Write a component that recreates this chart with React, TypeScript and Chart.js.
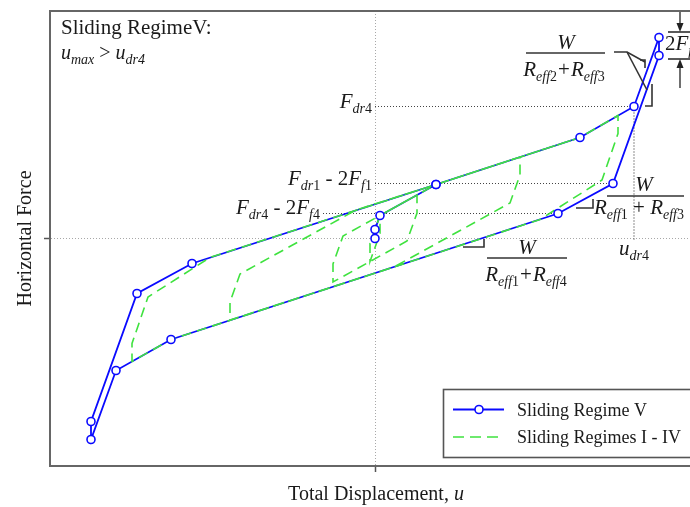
import React, { useEffect, useRef } from 'react';
import { Chart, registerables } from 'chart.js';

Chart.register(...registerables);

// ---------- data (displacement units / force units) ----------
// Sliding Regime V (blue solid line with circle markers)
const regimeVX = [0, 0, 0.5, 6.1, 20.5, 25.9, 28.4, 28.4, 23.8, 18.3, -20.4, -25.9, -28.4, -28.4, -23.8, -18.3, 6.1];
const regimeVY = [0, 0.9, 2.3, 5.4, 10.1, 13.2, 20.1, 18.3, 5.5, 2.5, -10.1, -13.2, -20.1, -18.3, -5.5, -2.5, 5.4];

// Sliding Regimes I - IV (green dashed, nested loops)
const regimesX = [0, 0, 0.5, 0.5, -0.5, -0.5, 0.5, 4.2, 4.2, 3.2, -4.2, -4.2, -3.2, 4.2, 6.1, 14.5, 14.5, 13.5, 1.9, -14.5, -14.5, -13.5, -1.9, 6.1, 20.5, 24.3, 24.3, 22.7, 16.5, -20.4, -24.3, -24.3, -22.7, -16.5, 6.1, 20.5];
const regimesY = [0, 0.9, 2.3, 0.5, -2.3, -0.5, 2.3, 4.35, 2.55, -0.25, -4.35, -2.55, 0.25, 4.35, 5.4, 8.15, 6.35, 3.55, -2.85, -8.15, -6.35, -3.55, 2.85, 5.4, 10.1, 12.3, 10.5, 5.85, 1.9, -10.1, -12.3, -10.5, -5.85, -1.9, 5.4, 10.1];

// dotted reference levels
const guideFdr4X = [0, 25.9];
const guideFdr4Y = [13.2, 13.2];
const guideFdr1X = [0, 23.8];
const guideFdr1Y = [5.5, 5.5];
const guideFdr4f4X = [-5.2, 18.3];
const guideFdr4f4Y = [2.5, 2.5];
const guideUdr4X = [25.9, 25.9];
const guideUdr4Y = [13.2, -0.2];

// axis ranges and the single (zero) tick on each axis
const xRange = [-32.5, 32.5];
const yRange = [-22.75, 22.75];
const axisTicks = [0];

const legendLabels = ['Sliding Regime V', 'Sliding Regimes I - IV'];

// ---------- styles ----------
const BLUE = '#0a0aff';
const GREEN = '#3fe23f';
const FRAME = '#666666';
const INK = '#1a1a1a';
const SERIF = '"Liberation Serif", "Times New Roman", serif';

type Seg = { t: string; it?: boolean; sub?: boolean; dx?: number };

function segFont(s: Seg, main: number, sub: number) {
  return `${s.it ? 'italic ' : ''}${s.sub ? sub : main}px ${SERIF}`;
}
function richWidth(ctx: CanvasRenderingContext2D, segs: Seg[], main: number, sub: number) {
  let w = 0;
  for (const s of segs) {
    ctx.font = segFont(s, main, sub);
    w += ctx.measureText(s.t).width + (s.dx || 0);
  }
  return w;
}
function drawRich(ctx: CanvasRenderingContext2D, segs: Seg[], x: number, y: number, align: string, main = 21, sub = 14) {
  const w = richWidth(ctx, segs, main, sub);
  let cx = align === 'left' ? x : align === 'center' ? x - w / 2 : x - w;
  ctx.textAlign = 'left';
  ctx.textBaseline = 'alphabetic';
  for (const s of segs) {
    cx += s.dx || 0;
    ctx.font = segFont(s, main, sub);
    ctx.fillText(s.t, cx, s.sub ? y + 5 : y);
    cx += ctx.measureText(s.t).width;
  }
}
function line(ctx: CanvasRenderingContext2D, pts: number[][]) {
  ctx.beginPath();
  ctx.moveTo(pts[0][0], pts[0][1]);
  for (let i = 1; i < pts.length; i++) ctx.lineTo(pts[i][0], pts[i][1]);
  ctx.stroke();
}
function arrowHead(ctx: CanvasRenderingContext2D, x: number, y: number, dir: number) {
  ctx.beginPath();
  ctx.moveTo(x, y);
  ctx.lineTo(x - 3.5, y - dir * 9);
  ctx.lineTo(x + 3.5, y - dir * 9);
  ctx.closePath();
  ctx.fill();
}

const R = (n: string): Seg[] => [
  { t: 'R', it: true },
  { t: 'eff', it: true, sub: true },
  { t: n, sub: true },
];

const annotPlugin = {
  id: 'annotations',
  afterDraw(chart: any) {
    const { ctx, chartArea: ca, scales } = chart;
    const X = (v: number) => scales.x.getPixelForValue(v);
    const Y = (v: number) => scales.y.getPixelForValue(v);
    ctx.save();

    // top / right frame
    ctx.strokeStyle = FRAME;
    ctx.lineWidth = 2;
    line(ctx, [[ca.left - 1, ca.top], [ca.right, ca.top], [ca.right, ca.bottom]]);

    ctx.fillStyle = INK;
    // panel title
    ctx.font = `21px ${SERIF}`;
    ctx.textAlign = 'left';
    ctx.textBaseline = 'alphabetic';
    ctx.fillText('Sliding RegimeV:', 61, 34);
    drawRich(ctx, [
      { t: 'u', it: true }, { t: 'max', it: true, sub: true },
      { t: ' > ' }, { t: 'u', it: true }, { t: 'dr4', it: true, sub: true },
    ], 61, 59, 'left', 20, 14);

    // axis titles
    ctx.font = `20px ${SERIF}`;
    ctx.save();
    ctx.translate(31, (ca.top + ca.bottom) / 2);
    ctx.rotate(-Math.PI / 2);
    ctx.textAlign = 'center';
    ctx.textBaseline = 'alphabetic';
    ctx.fillText('Horizontal Force', 0, 0);
    ctx.restore();
    drawRich(ctx, [{ t: 'Total Displacement, ' }, { t: 'u', it: true }], X(0) + 1, 500, 'center', 20, 14);

    // level labels
    drawRich(ctx, [{ t: 'F', it: true }, { t: 'dr', it: true, sub: true }, { t: '4', sub: true }], X(-0.3), Y(13.2) + 1, 'right');
    drawRich(ctx, [
      { t: 'F', it: true }, { t: 'dr', it: true, sub: true }, { t: '1', sub: true },
      { t: ' - 2' }, { t: 'F', it: true }, { t: 'f', it: true, sub: true }, { t: '1', sub: true },
    ], X(-0.3), Y(5.5) + 1, 'right');
    drawRich(ctx, [
      { t: 'F', it: true }, { t: 'dr', it: true, sub: true }, { t: '4', sub: true },
      { t: ' - 2' }, { t: 'F', it: true }, { t: 'f', it: true, sub: true }, { t: '4', sub: true },
    ], X(-5.5), Y(2.5), 'right');
    drawRich(ctx, [{ t: 'u', it: true }, { t: 'dr', it: true, sub: true }, { t: '4', sub: true }], X(25.9), Y(-1.6), 'center');

    // fractions (stiffness labels)
    ctx.strokeStyle = '#333';
    ctx.lineWidth = 1.6;
    // W/(Reff2+Reff3)
    drawRich(ctx, [{ t: 'W', it: true }], 566, 49, 'center');
    line(ctx, [[526, 53], [605, 53]]);
    drawRich(ctx, [...R('2'), { t: '+', dx: 1 }, ...R('3').map((s, i) => (i === 0 ? { ...s, dx: 1 } : s))], 564, 76, 'center');
    line(ctx, [[614, 52], [627, 52], [645, 62]]);
    line(ctx, [[627, 52], [647, 90]]);
    line(ctx, [[640, 60], [645, 60], [645, 68]]);
    line(ctx, [[652, 84], [652, 106], [645, 106]]);
    // W/(Reff1+Reff3)
    drawRich(ctx, [{ t: 'W', it: true }], 644, 191, 'center');
    line(ctx, [[607, 196], [684, 196]]);
    drawRich(ctx, [...R('1'), { t: ' + ' }, ...R('3')], 594, 214, 'left');
    line(ctx, [[576, 208], [593, 208], [593, 199]]);
    // W/(Reff1+Reff4)
    drawRich(ctx, [{ t: 'W', it: true }], 527, 254, 'center');
    line(ctx, [[487, 258], [567, 258]]);
    drawRich(ctx, [...R('1'), { t: '+', dx: 1 }, ...R('4').map((s, i) => (i === 0 ? { ...s, dx: 1 } : s))], 526, 281, 'center');
    line(ctx, [[463, 247], [484, 247], [484, 239]]);

    // 2Ff dimension
    ctx.strokeStyle = '#222';
    ctx.fillStyle = '#222';
    ctx.lineWidth = 1.3;
    line(ctx, [[668, 32], [705, 32]]);
    line(ctx, [[668, 59], [705, 59]]);
    line(ctx, [[680, 12], [680, 26]]);
    arrowHead(ctx, 680, 32, 1);
    line(ctx, [[680, 66], [680, 88]]);
    arrowHead(ctx, 680, 59, -1);
    ctx.fillStyle = INK;
    drawRich(ctx, [{ t: '2' }, { t: 'F', it: true }, { t: 'f', it: true, sub: true }, { t: '1', sub: true }], 665, 50, 'left');

    // legend
    const lx = 443.5, ly = 389.5;
    ctx.fillStyle = '#fff';
    ctx.fillRect(lx, ly, 270, 68);
    ctx.strokeStyle = '#555';
    ctx.lineWidth = 1.6;
    ctx.strokeRect(lx, ly, 270, 68);
    ctx.strokeStyle = BLUE;
    ctx.lineWidth = 1.8;
    line(ctx, [[453, 409.5], [504, 409.5]]);
    ctx.beginPath();
    ctx.arc(479, 409.5, 4, 0, Math.PI * 2);
    ctx.fillStyle = '#fff';
    ctx.fill();
    ctx.lineWidth = 1.6;
    ctx.stroke();
    ctx.strokeStyle = GREEN;
    ctx.setLineDash([11, 6]);
    line(ctx, [[453, 437], [504, 437]]);
    ctx.setLineDash([]);
    ctx.fillStyle = INK;
    ctx.font = `18px ${SERIF}`;
    ctx.textAlign = 'left';
    ctx.textBaseline = 'alphabetic';
    ctx.fillText(legendLabels[0], 517, 416);
    ctx.fillText(legendLabels[1], 517, 443);

    ctx.restore();
  },
};

const pts = (xs: number[], ys: number[]) => xs.map((x, i) => ({ x, y: ys[i] }));

const guide = (xs: number[], ys: number[]) => ({
  label: 'guide',
  data: pts(xs, ys),
  showLine: true,
  borderColor: '#444',
  borderWidth: 1.2,
  borderDash: [1, 2],
  pointRadius: 0,
  order: 6,
});

export default function App() {
  const ref = useRef<HTMLCanvasElement>(null);
  useEffect(() => {
    const canvas = ref.current;
    if (!canvas) return;
    const axis = (range: number[]) => ({
      type: 'linear' as const,
      min: range[0],
      max: range[1],
      afterBuildTicks: (s: any) => {
        s.ticks = axisTicks.map((v) => ({ value: v }));
      },
      ticks: { display: false },
      grid: {
        color: '#a8a8a8',
        lineWidth: 1,
        drawTicks: true,
        tickLength: 6,
        tickColor: '#555',
        tickWidth: 1.5,
      },
      border: { display: true, color: FRAME, width: 2, dash: [1, 2] },
    });
    const chart = new Chart(canvas, {
      type: 'scatter',
      data: {
        datasets: [
          guide(guideFdr4X, guideFdr4Y),
          guide(guideFdr1X, guideFdr1Y),
          guide(guideFdr4f4X, guideFdr4f4Y),
          guide(guideUdr4X, guideUdr4Y),
          {
            label: legendLabels[0] + ' line',
            data: pts(regimeVX, regimeVY),
            showLine: true,
            borderColor: BLUE,
            borderWidth: 1.8,
            pointRadius: 0,
            order: 4,
          },
          {
            label: legendLabels[1],
            data: pts(regimesX, regimesY),
            showLine: true,
            borderColor: GREEN,
            borderWidth: 1.6,
            borderDash: [10, 6],
            pointRadius: 0,
            order: 3,
          },
          {
            label: legendLabels[0],
            data: pts(regimeVX, regimeVY),
            showLine: false,
            pointRadius: 4,
            pointBorderWidth: 1.6,
            pointBorderColor: BLUE,
            pointBackgroundColor: '#ffffff',
            order: 1,
          },
        ],
      },
      options: {
        animation: false,
        responsive: false,
        maintainAspectRatio: false,
        devicePixelRatio: 1,
        layout: { padding: { left: 44, right: 12, top: 11, bottom: 35 } },
        plugins: { legend: { display: false }, tooltip: { enabled: false } },
        scales: { x: axis(xRange), y: axis(yRange) },
      },
      plugins: [annotPlugin],
    } as any);
    return () => chart.destroy();
  }, []);
  return (
    <div style={{ position: 'fixed', left: 0, top: 0, width: 690, height: 507, overflow: 'hidden', background: '#fff' }}>
      <canvas ref={ref} width={712} height={507} style={{ display: 'block', width: 712, height: 507 }} />
    </div>
  );
}
